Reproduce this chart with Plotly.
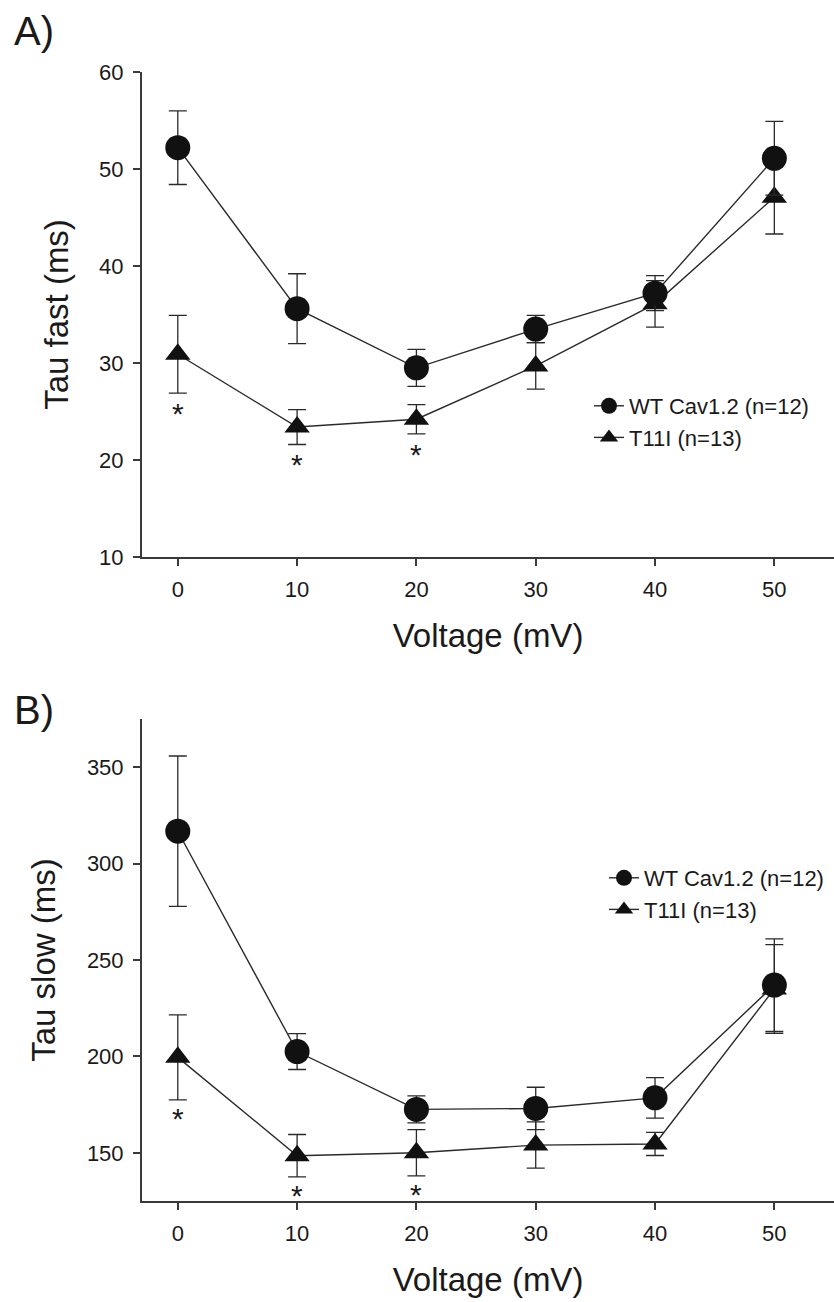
import plotly.graph_objects as go

# ---------------- data ----------------
voltage = [0, 10, 20, 30, 40, 50]
x_ticks = [0, 10, 20, 30, 40, 50]

wt_label = "WT Cav1.2 (n=12)"
mut_label = "T11I (n=13)"

# Panel A: Tau fast (ms)
tau_fast_wt = [52.2, 35.6, 29.5, 33.5, 37.2, 51.1]
tau_fast_wt_err = [3.8, 3.6, 1.9, 1.4, 1.8, 3.8]
tau_fast_mut = [30.9, 23.4, 24.2, 29.7, 36.1, 47.1]
tau_fast_mut_err = [4.0, 1.8, 1.5, 2.4, 2.4, 3.8]
tau_fast_sig = [True, True, True, False, False, False]
tau_fast_ticks = [10, 20, 30, 40, 50, 60]

# Panel B: Tau slow (ms)
tau_slow_wt = [316.8, 202.5, 172.5, 173.0, 178.5, 237.0]
tau_slow_wt_err = [39.0, 9.3, 7.0, 11.0, 10.5, 24.0]
tau_slow_mut = [199.5, 148.5, 150.0, 154.0, 154.6, 235.0]
tau_slow_mut_err = [22.0, 11.0, 12.0, 12.0, 6.0, 23.0]
tau_slow_sig = [True, True, True, False, False, False]
tau_slow_ticks = [150, 200, 250, 300, 350]

# ---------------- layout helpers ----------------
W, H = 834, 1302
ML, MR, MT, MB = 142, 0, 72, 101
PW = W - ML - MR
PH = H - MT - MB


def py(p):
    """page pixel y -> paper fraction"""
    return (H - MB - p) / PH


def px(p):
    return (p - ML) / PW


FONT = "Liberation Sans, Arial, sans-serif"
INK = "#1a1a1a"
AX = "#3a3a3a"

fig = go.Figure()


def add_series(x, y, err, name, symbol, size, xa, ya, legend):
    fig.add_trace(go.Scatter(
        x=x, y=y, name=name, mode="lines+markers",
        xaxis=xa, yaxis=ya, legend=legend,
        line=dict(color="#2a2a2a", width=1.4),
        marker=dict(symbol=symbol, size=size, color="#111111",
                    line=dict(width=0)),
        error_y=dict(type="data", array=err, visible=True,
                     color="#2a2a2a", thickness=1.3, width=9),
    ))


# T11I first so WT circles sit on top
add_series(voltage, tau_fast_mut, tau_fast_mut_err, mut_label, "triangle-up", 22, "x", "y", "legend")
add_series(voltage, tau_fast_wt, tau_fast_wt_err, wt_label, "circle", 25, "x", "y", "legend")
add_series(voltage, tau_slow_mut, tau_slow_mut_err, mut_label, "triangle-up", 22, "x2", "y2", "legend2")
add_series(voltage, tau_slow_wt, tau_slow_wt_err, wt_label, "circle", 25, "x2", "y2", "legend2")

STAR_FONT = dict(size=30, color=INK, family=FONT)
annotations = []
for xv, yv, ev, s in zip(voltage, tau_fast_mut, tau_fast_mut_err, tau_fast_sig):
    if s:
        annotations.append(dict(x=xv, y=yv - ev, xref="x", yref="y", text="*",
                                showarrow=False, yanchor="top", yshift=-2,
                                font=STAR_FONT))
for xv, yv, ev, s in zip(voltage, tau_slow_mut, tau_slow_mut_err, tau_slow_sig):
    if s:
        annotations.append(dict(x=xv, y=yv - ev, xref="x2", yref="y2", text="*",
                                showarrow=False, yanchor="top", yshift=0,
                                font=STAR_FONT))

annotations.append(dict(x=px(12), y=py(31), xref="paper", yref="paper", text="A)",
                        showarrow=False, xanchor="left", yanchor="middle",
                        font=dict(size=40, color=INK, family=FONT)))
annotations.append(dict(x=px(12), y=py(710), xref="paper", yref="paper", text="B)",
                        showarrow=False, xanchor="left", yanchor="middle",
                        font=dict(size=40, color=INK, family=FONT)))

axis_common = dict(
    showline=True, linecolor=AX, linewidth=2,
    ticks="outside", ticklen=7, tickwidth=1.5, tickcolor=AX,
    showgrid=False, zeroline=False, automargin=False,
    tickfont=dict(size=22, color=INK, family=FONT),
    ticklabelstandoff=5,
    mirror=False,
)

xaxis_common = dict(axis_common, range=[-3, 55], tickvals=x_ticks,
                    title=dict(text="Voltage (mV)", font=dict(size=33, color=INK, family=FONT),
                               standoff=22))

fig.update_layout(
    width=W, height=H,
    margin=dict(l=ML, r=MR, t=MT, b=MB, autoexpand=False),
    paper_bgcolor="white", plot_bgcolor="white",
    font=dict(family=FONT, color=INK),
    showlegend=True,
    xaxis=dict(xaxis_common, domain=[0, 1], anchor="y"),
    yaxis=dict(axis_common, domain=[py(557), 1.0], range=[10, 60], tickvals=tau_fast_ticks,
               anchor="x",
               title=dict(text="Tau fast (ms)", font=dict(size=33, color=INK, family=FONT),
                          standoff=21)),
    xaxis2=dict(xaxis_common, domain=[0, 1], anchor="y2"),
    yaxis2=dict(axis_common, domain=[0, py(719)], range=[125, 375], tickvals=tau_slow_ticks,
                anchor="x2",
                title=dict(text="Tau slow (ms)", font=dict(size=33, color=INK, family=FONT),
                           standoff=21)),
    legend=dict(x=px(589), y=py(385), xanchor="left", yanchor="top",
                traceorder="reversed", bgcolor="rgba(0,0,0,0)", tracegroupgap=0,
                font=dict(size=22, color=INK, family=FONT)),
    legend2=dict(x=px(604), y=py(857), xanchor="left", yanchor="top",
                 traceorder="reversed", bgcolor="rgba(0,0,0,0)", tracegroupgap=0,
                 font=dict(size=22, color=INK, family=FONT)),
    annotations=annotations,
)

fig.write_html("out.html", config={"displayModeBar": False},
               post_script="document.body.style.margin='0px';")
